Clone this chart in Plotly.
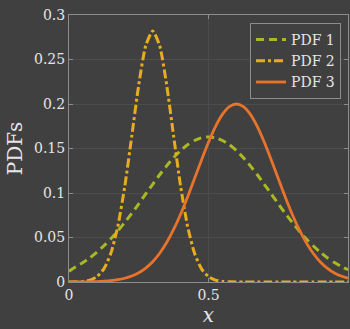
import plotly.graph_objects as go

x_vals = [round(i * 0.025, 3) for i in range(41)]

pdf1 = [0.012, 0.0172, 0.0218, 0.0272, 0.0336, 0.0407, 0.0486, 0.0574, 0.067, 0.0772,
        0.0879, 0.0989, 0.1098, 0.1205, 0.1305, 0.1397, 0.1477, 0.1542, 0.159, 0.162,
        0.163, 0.162, 0.159, 0.1542, 0.1477, 0.1397, 0.1305, 0.1205, 0.1098, 0.0989,
        0.0879, 0.0772, 0.067, 0.0574, 0.0486, 0.0407, 0.0336, 0.0274, 0.0221, 0.0176, 0.0138]

pdf2 = [0.00005, 0.0002, 0.0007, 0.0021, 0.006, 0.0147, 0.0322, 0.0625, 0.1075, 0.1639,
        0.2216, 0.2655, 0.282, 0.2655, 0.2216, 0.1639, 0.1075, 0.0625, 0.0322, 0.0147,
        0.006, 0.0021, 0.0007, 0.0002, 0.00005, 0, 0, 0, 0, 0,
        0, 0, 0, 0, 0, 0, 0, 0, 0, 0, 0]

pdf3 = [0.00003, 0.00007, 0.00014, 0.00026, 0.0005, 0.0009, 0.0015, 0.0026, 0.0042, 0.0067,
        0.0104, 0.0157, 0.0228, 0.0323, 0.0443, 0.059, 0.0762, 0.0956, 0.1163, 0.1372,
        0.1571, 0.1746, 0.1883, 0.197, 0.2, 0.197, 0.1883, 0.1746, 0.1571, 0.1372,
        0.1163, 0.0956, 0.0762, 0.059, 0.0443, 0.0323, 0.0228, 0.0157, 0.0104, 0.0067, 0.0042]

names = ["PDF 1", "PDF 2", "PDF 3"]
colors = ["#a9b823", "#e8ad1c", "#e8732a"]
dashes = ["8px,5px", "9px,3px,3px,3px", "solid"]
widths = [3, 3, 2.8]

y_ticks = [0, 0.05, 0.1, 0.15, 0.2, 0.25, 0.3]
y_labels = ["0", "0.05", "0.1", "0.15", "0.2", "0.25", "0.3"]
x_ticks = [0, 0.5, 1]
x_labels = ["0", "0.5", "1"]
x_title = "\U0001D465"
y_title = "PDFs"

bg = "#404040"
font_family = "DejaVu Serif"
text_color = "#e6e6e6"

fig = go.Figure()
for name, ys, c, d, w in zip(names, [pdf1, pdf2, pdf3], colors, dashes, widths):
    fig.add_trace(go.Scatter(x=x_vals, y=ys, mode="lines", name=name,
                             line=dict(color=c, dash=d, width=w, shape="spline", smoothing=0.6)))

fig.update_layout(
    width=350, height=329,
    margin=dict(l=69, r=2, t=15, b=47),
    paper_bgcolor=bg, plot_bgcolor=bg,
    font=dict(family=font_family, color=text_color, size=14),
    legend=dict(x=0.975, y=0.97, xanchor="right", yanchor="top",
                bgcolor=bg, bordercolor="#8c8c8c", borderwidth=1,
                font=dict(family=font_family, size=14, color=text_color),
                itemwidth=30, tracegroupgap=0),
    showlegend=True,
)
fig.update_xaxes(range=[0, 1], tickvals=x_ticks, ticktext=x_labels,
                 showline=True, linecolor="#8c8c8c", linewidth=1, mirror="ticks",
                 ticks="inside", ticklen=4, tickcolor="#8c8c8c",
                 showgrid=True, gridcolor="#4c4c4c", gridwidth=1, zeroline=False,
                 title=dict(text=x_title, font=dict(family=font_family, size=20, color=text_color), standoff=4),
                 tickfont=dict(family=font_family, size=14, color=text_color))
fig.update_yaxes(range=[0, 0.3], tickvals=y_ticks, ticktext=y_labels,
                 showline=True, linecolor="#8c8c8c", linewidth=1, mirror="ticks",
                 ticks="inside", ticklen=4, tickcolor="#8c8c8c",
                 showgrid=True, gridcolor="#4c4c4c", gridwidth=1, zeroline=False,
                 title=dict(text=y_title, font=dict(family=font_family, size=20, color=text_color), standoff=6),
                 tickfont=dict(family=font_family, size=14, color=text_color))

fig.write_html("out.html")
